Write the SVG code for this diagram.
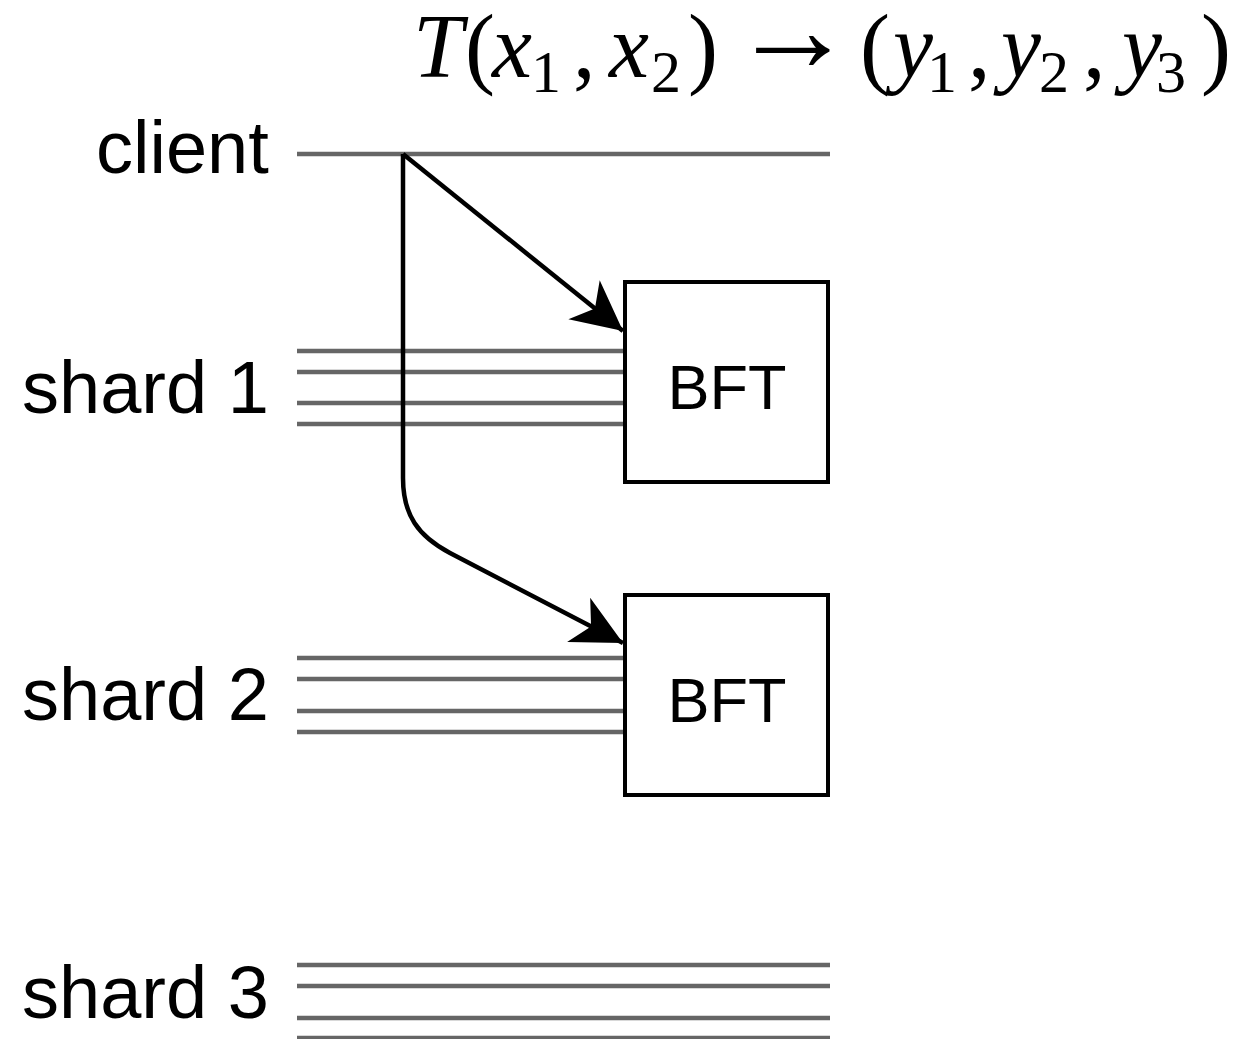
<svg xmlns="http://www.w3.org/2000/svg" width="1238" height="1039" viewBox="0 0 1238 1039">
  <style>
    .lane { stroke: #666666; stroke-width: 4.5; fill: none; }
    .edge { stroke: #000000; stroke-width: 4.5; fill: none; }
    .box { fill: #ffffff; stroke: #000000; stroke-width: 4; }
    .label { font-family: "Liberation Sans", Arial, sans-serif; font-size: 74px; fill: #000000; }
    .boxlabel { font-family: "Liberation Sans", Arial, sans-serif; font-size: 63px; fill: #000000; text-anchor: middle; }
    .math { font-family: "Liberation Serif", "Times New Roman", serif; font-size: 90px; fill: #000000; }
    .it { font-style: italic; }
    .sub { font-size: 60px; }
    .arr { font-size: 124px; }
  </style>
  <defs>
    <marker id="arrow" markerUnits="userSpaceOnUse" markerWidth="70" markerHeight="70" viewBox="-60 -35 70 70" refX="0" refY="0" orient="auto">
      <path d="M0,0 L-50,-25 L-36,0 L-50,25 Z" fill="#000000"/>
    </marker>
  </defs>

  <!-- transaction formula -->
  <text class="math" y="77">
    <tspan class="it" x="413">T</tspan><tspan x="465">(</tspan><tspan class="it" x="492">x</tspan><tspan class="sub" x="531" y="92">1</tspan><tspan x="573" y="77">,</tspan><tspan class="it" x="609">x</tspan><tspan class="sub" x="651" y="92">2</tspan><tspan x="688" y="77">)</tspan><tspan class="arr" x="731" y="71">→</tspan><tspan x="860" y="77">(</tspan><tspan class="it" x="893">y</tspan><tspan class="sub" x="927" y="92">1</tspan><tspan x="968" y="77">,</tspan><tspan class="it" x="1001">y</tspan><tspan class="sub" x="1039" y="92">2</tspan><tspan x="1083" y="77">,</tspan><tspan class="it" x="1122">y</tspan><tspan class="sub" x="1156" y="92">3</tspan><tspan x="1201" y="77">)</tspan>
  </text>

  <!-- lane labels and lanes -->
  <g id="client">
    <text class="label" x="96" y="173">client</text>
    <line class="lane" x1="297" y1="154" x2="830" y2="154"/>
  </g>
  <g id="shard1">
    <text class="label" x="22" y="413">shard 1</text>
    <line class="lane" x1="297" y1="351" x2="625" y2="351"/>
    <line class="lane" x1="297" y1="372" x2="625" y2="372"/>
    <line class="lane" x1="297" y1="403" x2="625" y2="403"/>
    <line class="lane" x1="297" y1="424" x2="625" y2="424"/>
  </g>
  <g id="shard2">
    <text class="label" x="22" y="720">shard 2</text>
    <line class="lane" x1="297" y1="658" x2="625" y2="658"/>
    <line class="lane" x1="297" y1="679" x2="625" y2="679"/>
    <line class="lane" x1="297" y1="711" x2="625" y2="711"/>
    <line class="lane" x1="297" y1="732" x2="625" y2="732"/>
  </g>
  <g id="shard3">
    <text class="label" x="22" y="1018">shard 3</text>
    <line class="lane" x1="297" y1="965" x2="830" y2="965"/>
    <line class="lane" x1="297" y1="986" x2="830" y2="986"/>
    <line class="lane" x1="297" y1="1018" x2="830" y2="1018"/>
    <line class="lane" x1="297" y1="1038" x2="830" y2="1038"/>
  </g>

  <!-- BFT consensus boxes -->
  <g id="bft1">
    <rect class="box" x="625" y="282" width="203" height="200"/>
    <text class="boxlabel" x="727" y="409">BFT</text>
  </g>
  <g id="bft2">
    <rect class="box" x="625" y="595" width="203" height="200"/>
    <text class="boxlabel" x="727" y="722">BFT</text>
  </g>

  <!-- requests from the client -->
  <g id="connectors">
    <path class="edge" d="M403,154 L623,331" marker-end="url(#arrow)"/>
    <path class="edge" d="M403,154 L403,478 C403,515 418,536 450,553 L623,643" marker-end="url(#arrow)"/>
  </g>
</svg>
